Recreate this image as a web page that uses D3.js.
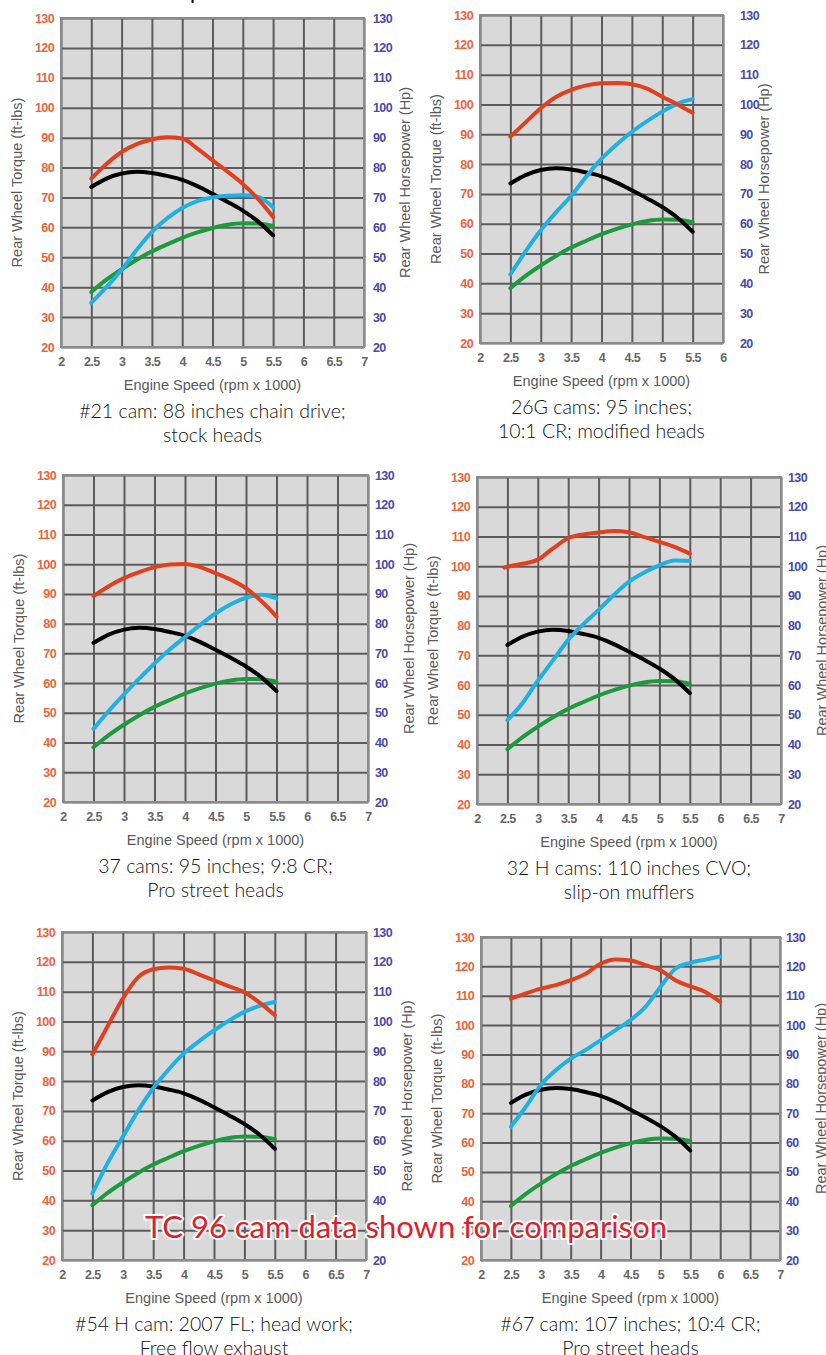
<!DOCTYPE html>
<html>
<head>
<meta charset="utf-8">
<script src="https://cdn.jsdelivr.net/npm/d3@7"></script>
<style>
  body { margin: 0; background: #fff; }
  svg { display: block; }
</style>
</head>
<body>
<script>

// rpm (x 1000) sample points
var rpmQuarter = [2.5, 2.75, 3, 3.25, 3.5, 3.75, 4, 4.25, 4.5, 4.75, 5, 5.25, 5.5];
var rpmTo6 = [2.5, 2.75, 3, 3.25, 3.5, 3.75, 4, 4.25, 4.5, 4.75, 5, 5.25, 5.5, 5.75, 6];
var rpm32Torque = [2.45, 2.5, 2.75, 3, 3.25, 3.5, 3.75, 4, 4.25, 4.5, 4.75, 5, 5.25, 5.5];

// TC 96 baseline (same in every panel)
var tcTorque = [73.5, 76.3, 78, 78.6, 78.2, 77.2, 75.9, 73.8, 71.2, 68.5, 65.6, 62, 57.3];
var tcHp     = [38.4, 42.5, 46, 49.2, 52, 54.3, 56.5, 58.3, 59.8, 60.9, 61.4, 61.3, 60.5];

// tested cams
var cam21Torque  = [76.3, 81.2, 85.2, 87.8, 89.4, 90.1, 89.7, 86.3, 82.4, 78.6, 74.5, 69.5, 63.5];
var cam21Hp      = [34.8, 40, 45.8, 52.5, 58.5, 63, 66.5, 68.8, 70, 70.6, 70.7, 70.2, 66.7];
var cam26gTorque = [89.2, 94, 98.7, 102.5, 104.9, 106.4, 107.1, 107.2, 106.8, 105.3, 102.6, 100, 97.2];
var cam26gHp     = [43, 50.7, 57.8, 63.8, 69.3, 75.8, 81.8, 86.6, 90.8, 94.4, 97.6, 100.3, 101.8];
var cam37Torque  = [89.3, 92.6, 95.3, 97.3, 99, 99.9, 100.1, 99, 97, 94.8, 91.9, 87.6, 82.4];
var cam37Hp      = [44.6, 50.6, 56.2, 61.5, 66.6, 71.3, 75.5, 79.6, 83.4, 86.5, 88.7, 89.7, 88.5];
var cam32hTorque = [99.5, 99.8, 100.8, 102.2, 106, 109.4, 110.7, 111.3, 111.8, 111.4, 109.8, 108.2, 106.5, 104.2];
var cam32hHp     = [48.2, 54, 61.5, 68.3, 75.2, 80.5, 85.3, 90.3, 94.8, 97.9, 100.3, 101.9, 101.8];
var cam54hTorque = [89, 98.4, 107.7, 114.8, 117.5, 118.1, 117.7, 115.8, 113.8, 111.8, 109.8, 106.3, 102.1];
var cam54hHp     = [42.3, 52.5, 61.3, 70, 77.6, 83.8, 89.2, 93.3, 97, 100.3, 103.2, 105.2, 106.5];
var cam67Torque  = [109, 110.8, 112.4, 113.6, 115.3, 117.5, 120.9, 122.3, 122, 120.4, 118.7, 115.3, 113.2, 111.3, 107.9];
var cam67Hp      = [65.4, 72.2, 79.6, 84.6, 88.6, 91.5, 94.9, 98.3, 101.7, 106.2, 113, 119.2, 121.2, 122.3, 123.4];

// ticks
var yTicks = [20, 30, 40, 50, 60, 70, 80, 90, 100, 110, 120, 130];
var xTicks7 = [2, 2.5, 3, 3.5, 4, 4.5, 5, 5.5, 6, 6.5, 7];
var xTicks6 = [2, 2.5, 3, 3.5, 4, 4.5, 5, 5.5, 6];

var captions = [
  ["#21 cam: 88 inches chain drive;", "stock heads"],
  ["26G cams: 95 inches;", "10:1 CR; modified heads"],
  ["37 cams: 95 inches; 9:8 CR;", "Pro street heads"],
  ["32 H cams: 110 inches CVO;", "slip-on mufflers"],
  ["#54 H cam: 2007 FL; head work;", "Free flow exhaust"],
  ["#67 cam: 107 inches; 10:4 CR;", "Pro street heads"]
];

var overlayText = "TC 96 cam data shown for comparison";

var width = 826, height = 1355;
var torqueColor = "#e0401f", hpColor = "#1fb0e6";
var tcTorqueColor = "#000", tcHpColor = "#1e9a3e";

// plot rectangles (page px)
var panels = [
  {left: 61,  top: 18,  w: 303, h: 329, xTicks: xTicks7, rGap: 9,
   rpmT: rpmQuarter, torque: cam21Torque, rpmH: rpmQuarter, hp: cam21Hp, cap: captions[0]},
  {left: 480, top: 15,  w: 243, h: 328, xTicks: xTicks6, rGap: 17,
   rpmT: rpmQuarter, torque: cam26gTorque, rpmH: rpmQuarter, hp: cam26gHp, cap: captions[1]},
  {left: 63,  top: 475, w: 305, h: 327, xTicks: xTicks7, rGap: 7,
   rpmT: rpmQuarter, torque: cam37Torque, rpmH: rpmQuarter, hp: cam37Hp, cap: captions[2]},
  {left: 477, top: 477, w: 304, h: 327, xTicks: xTicks7, rGap: 7,
   rpmT: rpm32Torque, torque: cam32hTorque, rpmH: rpmQuarter, hp: cam32hHp, cap: captions[3]},
  {left: 62,  top: 932, w: 304, h: 328, xTicks: xTicks7, rGap: 7,
   rpmT: rpmQuarter, torque: cam54hTorque, rpmH: rpmQuarter, hp: cam54hHp, cap: captions[4]},
  {left: 481, top: 937, w: 299, h: 323, xTicks: xTicks7, rGap: 6,
   rpmT: rpmTo6, torque: cam67Torque, rpmH: rpmTo6, hp: cam67Hp, cap: captions[5]}
];

var svg = d3.select("body").append("svg")
            .attr("width", width)
            .attr("height", height);

svg.append("rect").attr("width", width).attr("height", height).style("fill", "#fff");

// cut-off heading descender at the very top
svg.append("text").attr("x", 190).attr("y", -1)
   .style("font-family", "Lato, sans-serif").style("font-size", "22px")
   .text("p");

panels.forEach(drawPanel);

// overlay note
svg.append("text")
   .attr("x", 406)
   .attr("y", 1238)
   .attr("text-anchor", "middle")
   .style("font-family", "Lato, sans-serif")
   .style("font-size", "31px")
   .style("fill", "#d7232e")
   .style("stroke", "#fff")
   .style("stroke-width", 4)
   .style("stroke-linejoin", "round")
   .style("paint-order", "stroke")
   .text(overlayText);


function drawPanel(p)
{
  var xMax = p.xTicks[p.xTicks.length - 1];
  var xScale = d3.scaleLinear().domain([2, xMax]).range([0, p.w]);
  var yScale = d3.scaleLinear().domain([20, 130]).range([p.h, 0]);

  var g = svg.append("g").attr("transform", "translate(" + p.left + "," + p.top + ")");

  // background
  g.append("rect").attr("width", p.w).attr("height", p.h)
   .style("fill", "#d9d9d9");

  // grid
  var gx = g.append("g").attr("transform", "translate(0," + p.h + ")")
            .call(d3.axisBottom(xScale).tickValues(p.xTicks).tickSize(-p.h).tickFormat(""));
  var gy = g.append("g")
            .call(d3.axisLeft(yScale).tickValues(yTicks).tickSize(-p.w).tickFormat(""));
  [gx, gy].forEach(function(a) {
    a.select(".domain").remove();
    a.selectAll("line").style("stroke", "#5c5c5c").style("stroke-width", 2);
  });

  // border
  g.append("rect").attr("width", p.w).attr("height", p.h)
   .style("fill", "none").style("stroke", "#8a8a8a").style("stroke-width", 2);

  // left torque labels
  var la = g.append("g")
            .call(d3.axisLeft(yScale).tickValues(yTicks).tickSize(0).tickPadding(7));
  la.select(".domain").remove();
  la.selectAll("text").style("fill", "#e8643c");

  // right hp labels
  var ra = g.append("g").attr("transform", "translate(" + p.w + ",0)")
            .call(d3.axisRight(yScale).tickValues(yTicks).tickSize(0).tickPadding(p.rGap));
  ra.select(".domain").remove();
  ra.selectAll("text").style("fill", "#4a4aa8");

  // x labels
  var xa = g.append("g").attr("transform", "translate(0," + p.h + ")")
            .call(d3.axisBottom(xScale).tickValues(p.xTicks).tickSize(0).tickPadding(10)
                  .tickFormat(function(d) { return d; }));
  xa.select(".domain").remove();
  xa.selectAll("text").style("fill", "#666");

  [la, ra, xa].forEach(function(a) {
    a.selectAll("text")
     .style("font-family", "'Liberation Sans', Arial, sans-serif")
     .style("font-size", "12.5px")
     .style("font-weight", "bold")
     .style("letter-spacing", "-0.6px");
  });

  // axis titles
  var titleStyle = function(t) {
    t.style("font-family", "'Liberation Sans', Arial, sans-serif")
     .style("font-size", "14.5px")
     .style("fill", "#5a5a5a")
     .attr("text-anchor", "middle")
     .attr("dominant-baseline", "central");
  };

  g.append("text").call(titleStyle)
   .attr("transform", "translate(-44," + (p.h / 2) + ") rotate(-90)")
   .text("Rear Wheel Torque (ft-lbs)");

  g.append("text").call(titleStyle)
   .attr("transform", "translate(" + (p.w + 41) + "," + (p.h / 2) + ") rotate(-90)")
   .text("Rear Wheel Horsepower (Hp)");

  g.append("text").call(titleStyle)
   .attr("x", p.w / 2).attr("y", p.h + 38)
   .text("Engine Speed (rpm x 1000)");

  // caption
  p.cap.forEach(function(line, i) {
    g.append("text")
     .attr("x", p.w / 2)
     .attr("y", p.h + 63 + i * 24)
     .attr("text-anchor", "middle")
     .attr("dominant-baseline", "central")
     .style("font-family", "Lato, sans-serif")
     .style("font-size", "19.5px")
     .style("font-weight", 300)
     .style("fill", "#111")
     .text(line);
  });

  // curves
  var line = d3.line()
               .x(function(d) { return xScale(d[0]); })
               .y(function(d) { return yScale(d[1]); })
               .curve(d3.curveMonotoneX);

  var series = [
    {x: rpmQuarter, y: tcHp, c: tcHpColor},
    {x: rpmQuarter, y: tcTorque, c: tcTorqueColor},
    {x: p.rpmH, y: p.hp, c: hpColor},
    {x: p.rpmT, y: p.torque, c: torqueColor}
  ];

  g.selectAll("path.curve").data(series).enter().append("path")
   .attr("class", "curve")
   .attr("d", function(s) { return line(d3.zip(s.x, s.y)); })
   .style("fill", "none")
   .style("stroke", function(s) { return s.c; })
   .style("stroke-width", 4)
   .style("stroke-linecap", "round")
   .style("stroke-linejoin", "round");
}

</script>
</body>
</html>
